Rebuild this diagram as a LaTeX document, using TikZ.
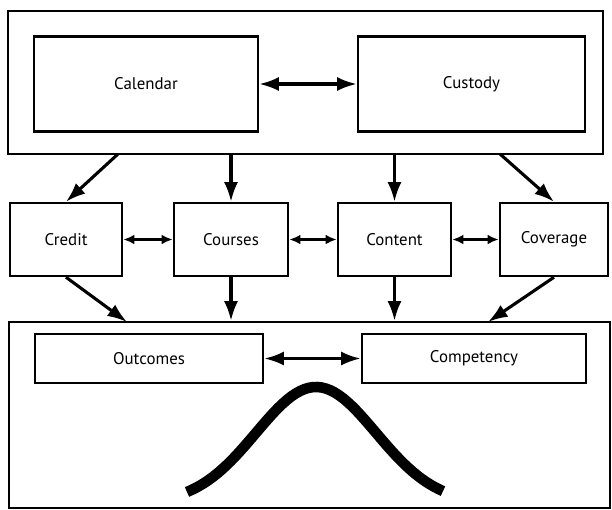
\documentclass[tikz,border=0pt]{standalone}
\usepackage{fontspec}
\usepackage{tikz}
\usetikzlibrary{arrows.meta}
\newfontfamily\boxfont{PT Sans}

\tikzset{
  frame/.style={draw, line width=1.7pt, inner sep=0cm},
  box/.style={draw, line width=1.7pt, inner sep=0cm,
              font=\boxfont\fontsize{12}{14}\selectfont},
  flow/.style={line width=2.2pt, -{Latex[length=14pt,width=10pt]}},
  both/.style={line width=2.2pt,
               {Latex[length=14pt,width=10pt]}-{Latex[length=14pt,width=10pt]}},
  link/.style={line width=1.9pt,
               {Latex[length=8pt,width=7pt]}-{Latex[length=8pt,width=7pt]}},
}

\begin{document}
\begin{tikzpicture}[x=0.025cm, y=-0.025cm]
\useasboundingbox (0,0) rectangle (612,509);

% upper frame
\draw (305.5, 82.5) node[frame, minimum width=14.875cm, minimum height=3.575cm] (top) {};
\draw (146, 84) node[box, minimum width=5.6cm, minimum height=2.375cm] (calendar) {Calendar};
\draw (471.5, 84) node[box, minimum width=5.675cm, minimum height=2.375cm] (custody) {Custody};
\draw[both] (calendar) -- (custody);

% middle row
\draw (66, 239.5) node[box, minimum width=2.8cm, minimum height=1.825cm] (credit) {Credit};
\draw (231, 239.5) node[box, minimum width=2.85cm, minimum height=1.825cm] (courses) {Courses};
\draw (394.5, 239.5) node[box, minimum width=2.825cm, minimum height=1.825cm] (content) {Content};
\draw (554, 239.5) node[box, minimum width=2.7cm, minimum height=1.825cm] (coverage) {Coverage};
\draw[link] (credit) -- (courses);
\draw[link] (courses) -- (content);
\draw[link] (content) -- (coverage);

% lower frame
\draw (309.5, 415) node[frame, minimum width=15.025cm, minimum height=4.65cm] (bot) {};
\draw (149, 358.5) node[box, minimum width=5.7cm, minimum height=1.225cm] (outcomes) {Outcomes};
\draw (474, 358.5) node[box, minimum width=5.6cm, minimum height=1.225cm] (competency) {Competency};
\draw[both] (outcomes) -- (competency);

% bell curve
\draw[line width=7.5pt] plot[domain=187:443, samples=60]
  (\x, {503.5-116.5*exp(-0.5*((\x-316)/60)^2)});

% frame to row to frame
\coordinate (t1) at (118, 154);
\coordinate (t4) at (500, 154);
\coordinate (b1) at (127, 322);
\coordinate (b4) at (488, 322);
\draw[flow] (t1) -- (credit.north);
\draw[flow] (courses.north |- top.south) -- (courses.north);
\draw[flow] (content.north |- top.south) -- (content.north);
\draw[flow] (t4) -- (coverage.north);
\draw[flow] (credit.south) -- (b1);
\draw[flow] (courses.south) -- (courses.south |- bot.north);
\draw[flow] (content.south) -- (content.south |- bot.north);
\draw[flow] (coverage.south) -- (b4);
\end{tikzpicture}
\end{document}
